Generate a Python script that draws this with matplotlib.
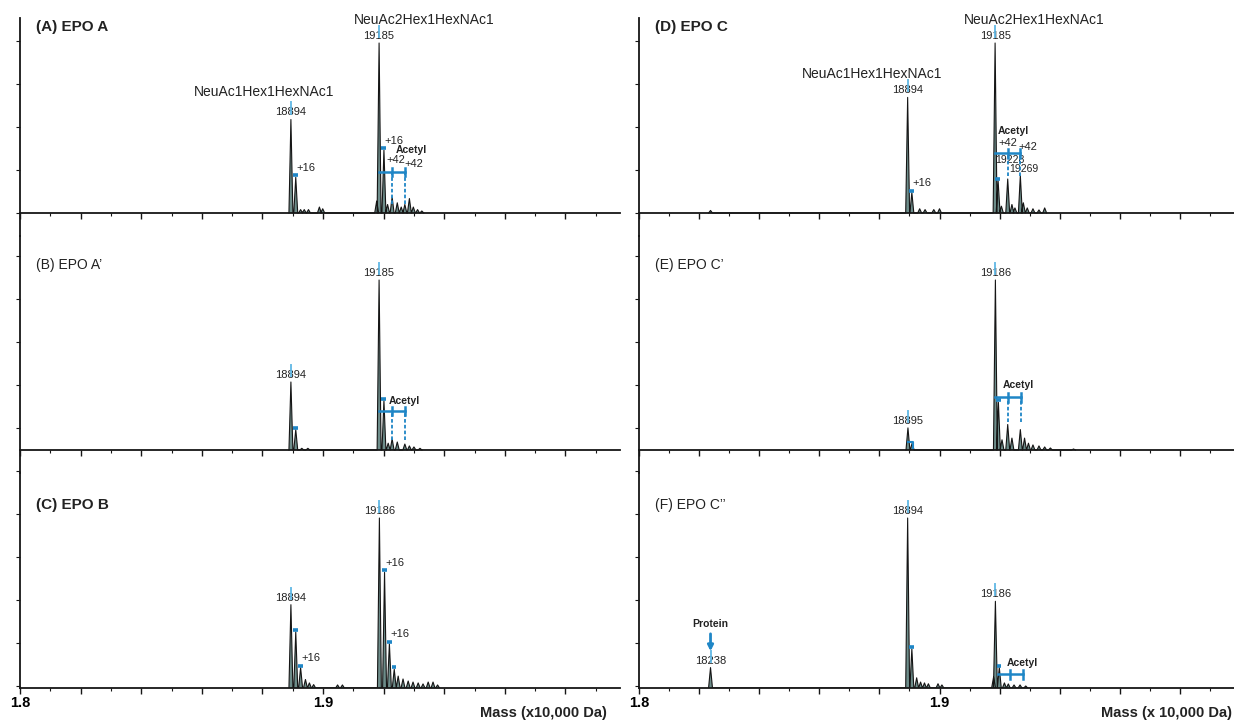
import matplotlib
matplotlib.use('Agg')
import matplotlib.pyplot as plt
import numpy as np

plt.rcParams['font.family'] = ['Liberation Sans Narrow', 'Liberation Sans', 'DejaVu Sans']

# peak lists: mass (Da) and intensity relative to the tallest peak of panel A
A_mass = [18894, 18910, 18926, 18938, 18952, 18988, 18999, 19177, 19185, 19201, 19213,
          19228, 19245, 19258, 19270, 19285, 19298, 19312, 19326]
A_int = [0.55, 0.21, 0.02, 0.02, 0.02, 0.035, 0.025, 0.07, 1.0, 0.37, 0.05,
         0.094, 0.06, 0.035, 0.05, 0.085, 0.035, 0.02, 0.012]

B_mass = [18894, 18910, 18930, 18950, 19185, 19201, 19215, 19228, 19245, 19270, 19285, 19300, 19320]
B_int = [0.40, 0.12, 0.01, 0.01, 1.0, 0.29, 0.04, 0.065, 0.047, 0.035, 0.024, 0.018, 0.01]

C_mass = [18894, 18910, 18926, 18942, 18955, 18969, 19048, 19064, 19186, 19203, 19219, 19235,
          19248, 19264, 19281, 19297, 19314, 19330, 19347, 19363, 19378]
C_int = [0.49, 0.33, 0.12, 0.05, 0.03, 0.02, 0.018, 0.018, 1.0, 0.68, 0.26, 0.11,
         0.07, 0.053, 0.041, 0.035, 0.03, 0.024, 0.035, 0.035, 0.018]

D_mass = [18238, 18894, 18908, 18934, 18952, 18981, 19000, 19185, 19195, 19206, 19227,
          19241, 19251, 19269, 19279, 19292, 19311, 19331, 19350]
D_int = [0.015, 0.68, 0.12, 0.025, 0.02, 0.02, 0.025, 1.0, 0.19, 0.04, 0.2,
         0.05, 0.03, 0.22, 0.06, 0.03, 0.025, 0.018, 0.03]

E_mass = [18895, 18909, 19186, 19196, 19208, 19227, 19241, 19269, 19283, 19296, 19311,
          19331, 19350, 19369, 19446]
E_int = [0.13, 0.04, 1.0, 0.28, 0.06, 0.15, 0.07, 0.12, 0.07, 0.04, 0.03,
         0.024, 0.018, 0.012, 0.006]

F_mass = [18238, 18894, 18908, 18924, 18937, 18950, 18963, 18995, 19008, 19180, 19186,
          19199, 19216, 19229, 19248, 19268, 19287]
F_int = [0.12, 1.0, 0.23, 0.06, 0.035, 0.03, 0.025, 0.025, 0.018, 0.065, 0.51,
         0.12, 0.03, 0.024, 0.018, 0.018, 0.012]

# labelled peaks, peaks flagged with a blue dash, and which of those get "+16"
A_labels = [(18894, '18894'), (19185, '19185')]
B_labels = [(18894, '18894'), (19185, '19185')]
C_labels = [(18894, '18894'), (19186, '19186')]
D_labels = [(18894, '18894'), (19185, '19185')]
E_labels = [(18895, '18895'), (19186, '19186')]
F_labels = [(18238, '18238'), (18894, '18894'), (19186, '19186')]

A_mods = [18910, 19201]
B_mods = [18910, 19201]
C_mods = [18910, 18926, 19203, 19219, 19235]
D_mods = [18908, 19195]
E_mods = [19196]
F_mods = [18908, 19199]

A_plus16 = [18910, 19201]
B_plus16 = []
C_plus16 = [18926, 19203, 19219]
D_plus16 = [18908]
E_plus16 = []
F_plus16 = []

# acetyl ladder: first peak, bracket level, bottom of dashed drop lines
A_acetyl = (19185, 0.24, 0.05)
B_acetyl = (19185, 0.23, 0.06)
C_acetyl = None
D_acetyl = (19185, 0.35, 0.22)
E_acetyl = (19186, 0.31, 0.165)
F_acetyl = (19194, 0.08, None)

# free text: (text, mass, y, style)
A_text = [('NeuAc1Hex1HexNAc1', 18805, 0.71, 'name'), ('NeuAc2Hex1HexNAc1', 19334, 1.135, 'name'),
          ('Acetyl', 19290, 0.37, 'bold'), ('+42', 19239, 0.31, 'small'), ('+42', 19301, 0.29, 'small')]
B_text = [('Acetyl', 19267, 0.29, 'bold')]
C_text = []
D_text = [('NeuAc1Hex1HexNAc1', 18774, 0.82, 'name'), ('NeuAc2Hex1HexNAc1', 19315, 1.135, 'name'),
          ('Acetyl', 19247, 0.48, 'bold'), ('+42', 19229, 0.41, 'small'), ('+42', 19293, 0.39, 'small'),
          ('19228', 19235, 0.31, 'num'), ('19269', 19280, 0.26, 'num')]
E_text = [('Acetyl', 19261, 0.38, 'bold')]
F_text = [('Acetyl', 19277, 0.147, 'bold'), ('Protein', 18238, 0.376, 'bold')]

titles = ['(A) EPO A', '(B) EPO A\u2019', '(C) EPO B', '(D) EPO C', '(E) EPO C\u2019', '(F) EPO C\u2019\u2019']
title_bold = [True, False, True, True, False, False]

W, H = 1234, 723
UNIT = 170.0
ROWS = [(18, 236, 213), (236, 473, 450), (473, 688, 688)]  # top, bottom, baseline in px
COLS = [(20, 620), (639, 1234)]
XMIN, XMAX = 1.8, 1.998
HW = 0.00065
LINE = '#161616'
FILL = '#6d8d8a'
BLUE = '#1f86c6'
LIGHT = '#5cb6e4'

fig = plt.figure(figsize=(W / 100, H / 100), dpi=100)


def peak_h(masses, heights, m):
    i = int(np.argmin(np.abs(np.array(masses) - m)))
    return heights[i]


def draw_panel(ax, masses, heights, labels, mods, plus16, acetyl, texts):
    xs, ys = [], []
    for m, h in sorted(zip(masses, heights)):
        x = m / 1e4
        xs += [x - HW, x, x + HW]
        ys += [0, h, 0]
    ax.fill(xs, ys, color=FILL, lw=0, zorder=2)
    ax.plot(xs, ys, color=LINE, lw=0.8, zorder=3)

    for m, txt in labels:
        h = peak_h(masses, heights, m)
        ax.text(m / 1e4, h + 0.012, txt, ha='center', va='bottom', fontsize=8, color='#222', zorder=5)
        ax.plot([m / 1e4, m / 1e4], [h + 0.035, h + 0.1], color=LIGHT, lw=1.4, zorder=6, alpha=0.9)

    # short blue dashes marking the oxidised (+16) forms
    for m in mods:
        h = peak_h(masses, heights, m)
        ax.plot([m / 1e4 - 0.0009, m / 1e4 + 0.0007], [h + 0.012, h + 0.012], color=BLUE, lw=2.6,
                zorder=6, solid_capstyle='butt')
    for m in plus16:
        h = peak_h(masses, heights, m)
        ax.text(m / 1e4 + 0.0003, h + 0.055, '+16', ha='left', va='center', fontsize=8, color='#222', zorder=5)

    if acetyl is not None:
        start, level, bottom = acetyl
        x0, x1, x2 = start / 1e4, (start + 42) / 1e4, (start + 84) / 1e4
        ax.plot([x0, x2], [level, level], color=BLUE, lw=1.8, zorder=6)
        for x in (x1, x2):
            ax.plot([x, x], [level - 0.025, level + 0.025], color=BLUE, lw=1.8, zorder=6)
            if bottom is not None:
                ax.plot([x, x], [bottom, level], color=BLUE, lw=1.3, ls=(0, (2, 1.2)), zorder=6)

    for txt, m, y, style in texts:
        if style == 'name':
            ax.text(m / 1e4, y, txt, ha='center', va='center', fontsize=10, color='#222')
        elif style == 'bold':
            ax.text(m / 1e4, y, txt, ha='center', va='center', fontsize=7.5, fontweight='bold', color='#222')
        elif style == 'small':
            ax.text(m / 1e4, y, txt, ha='center', va='center', fontsize=8, color='#222')
        else:
            ax.text(m / 1e4, y, txt, ha='center', va='center', fontsize=7.5, color='#222')


panels = [
    (A_mass, A_int, A_labels, A_mods, A_plus16, A_acetyl, A_text),
    (B_mass, B_int, B_labels, B_mods, B_plus16, B_acetyl, B_text),
    (C_mass, C_int, C_labels, C_mods, C_plus16, C_acetyl, C_text),
    (D_mass, D_int, D_labels, D_mods, D_plus16, D_acetyl, D_text),
    (E_mass, E_int, E_labels, E_mods, E_plus16, E_acetyl, E_text),
    (F_mass, F_int, F_labels, F_mods, F_plus16, F_acetyl, F_text),
]

major = np.round(1.8 + 0.02 * np.arange(10), 2)
minor = np.round(1.81 + 0.02 * np.arange(10), 2)
minor = minor[minor < XMAX]

for idx, p in enumerate(panels):
    col, row = idx // 3, idx % 3
    top, bot, base = ROWS[row]
    x0, x1 = COLS[col]
    ax = fig.add_axes([x0 / W, 1 - bot / H, (x1 - x0) / W, (bot - top) / H])
    ax.set_xlim(XMIN, XMAX)
    ax.set_ylim(-(bot - base) / UNIT, (base - top) / UNIT)
    ax.patch.set_alpha(0)
    for s in ('top', 'right'):
        ax.spines[s].set_visible(False)
    ax.spines['bottom'].set_position(('data', 0))
    ax.spines['bottom'].set_linewidth(1.3)
    ax.spines['left'].set_linewidth(1.3)
    ax.spines['bottom'].set_color(LINE)
    ax.spines['left'].set_color(LINE)

    ax.set_xticks(major)
    ax.set_xticks(minor, minor=True)
    if row == 2:
        ax.set_xticklabels(['1.8' if t == 1.8 else '1.9' if t == 1.9 else '' for t in major],
                           fontsize=10.5, fontweight='bold')
    else:
        ax.set_xticklabels([])
    ax.tick_params(axis='x', which='major', direction='out', length=4, width=1, pad=2, color=LINE)
    ax.tick_params(axis='x', which='minor', direction='out', length=2.5, width=0.8, color=LINE)

    ypx = [213 + 43 * k for k in range(-5, 12)]
    yt = [(base - y) / UNIT for y in ypx if top < y <= bot + 1]
    ax.set_yticks(yt)
    ax.set_yticklabels([])
    ax.tick_params(axis='y', direction='out', length=3, width=0.8, color=LINE)

    draw_panel(ax, *p)

    if idx == 5:
        ax.annotate('', xy=(1.8238, 0.2), xytext=(1.8238, 0.335),
                    arrowprops=dict(arrowstyle='-|>', color=BLUE, lw=2, mutation_scale=8))
    if idx == 4:
        ax.plot([1.8895, 1.8911, 1.8911], [0.05, 0.05, 0.012], color=BLUE, lw=1.5, zorder=6)

    tx = 36 if col == 0 else 655
    ty = [27, 265, 505][row]
    fig.text(tx / W, 1 - ty / H, titles[idx], ha='left', va='center',
             fontsize=11 if title_bold[idx] else 10,
             fontweight='bold' if title_bold[idx] else 'normal', color='#222')

fig.text(607 / W, 1 - 713 / H, 'Mass (x10,000 Da)', ha='right', va='center',
         fontsize=10.5, fontweight='bold', color='#222')
fig.text(1232 / W, 1 - 713 / H, 'Mass (x 10,000 Da)', ha='right', va='center',
         fontsize=10.5, fontweight='bold', color='#222')

fig.savefig('out.png', dpi=100)
plt.close(fig)
